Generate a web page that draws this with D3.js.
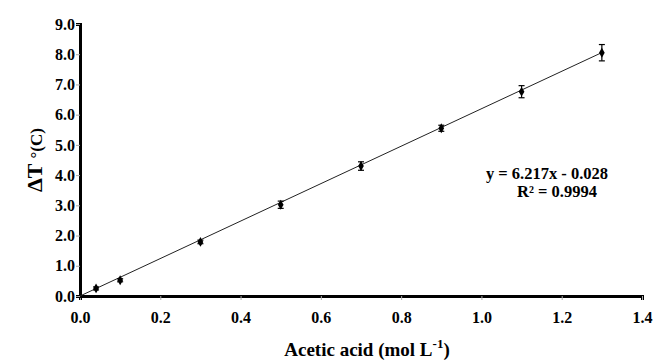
<!DOCTYPE html>
<html>
<head>
<meta charset="utf-8">
<script src="https://cdn.jsdelivr.net/npm/d3@7"></script>
<style>
  body { margin: 0; background: #fff; }
  svg { font-family: "Liberation Serif", "Times New Roman", serif; font-weight: bold; }
</style>
</head>
<body>
<svg id="chart" width="653" height="362"></svg>
<script>
// concentration (mol L-1) and temperature rise with error bars
const acid = [0.04, 0.1, 0.3, 0.5, 0.7, 0.9, 1.1, 1.3]
const deltaT = [0.25, 0.52, 1.79, 3.02, 4.30, 5.55, 6.76, 8.05]
const errT = [0.05, 0.05, 0.06, 0.12, 0.14, 0.10, 0.20, 0.27]
const xTicks = [0, 0.2, 0.4, 0.6, 0.8, 1.0, 1.2, 1.4]
const yTicks = [0, 1, 2, 3, 4, 5, 6, 7, 8, 9]
const slope = 6.217
const intercept = -0.028
const fitText = ["y = 6.217x - 0.028", "R\u00b2 = 0.9994"]

const svg = d3.select("#chart")
const margin = { left: 80, right: 11, top: 24, bottom: 66 }
const width = 653, height = 362

const scaleX = d3.scaleLinear().domain([0, 1.4]).range([margin.left, width - margin.right])
const scaleY = d3.scaleLinear().domain([0, 9]).range([height - margin.bottom, margin.top])

const data = acid.map((x, i) => ({ x: x, y: deltaT[i], e: errT[i] }))

// x axis
const xAxis = svg.append("g")
    .attr("transform", `translate(0,${scaleY(0)})`)
    .call(d3.axisBottom(scaleX).tickValues(xTicks).tickFormat(d3.format(".1f")).tickSize(4).tickPadding(12))
    .attr("font-family", null)
    .attr("font-size", null)
xAxis.select(".domain").attr("stroke-width", 3)
xAxis.selectAll(".tick line").attr("stroke", "#aaa")
xAxis.selectAll("text").attr("font-size", 16).attr("fill", "#000")

// y axis
const yAxis = svg.append("g")
    .attr("transform", `translate(${scaleX(0)},0)`)
    .call(d3.axisLeft(scaleY).tickValues(yTicks).tickFormat(d3.format(".1f")).tickSize(4).tickPadding(1))
    .attr("font-family", null)
    .attr("font-size", null)
yAxis.select(".domain").attr("stroke-width", 3)
yAxis.selectAll(".tick line").attr("stroke", "#aaa")
yAxis.selectAll("text").attr("font-size", 16).attr("fill", "#000")

// trend line
const fit = [0, acid[acid.length - 1]].map(x => ({ x: x, y: Math.max(0, slope * x + intercept) }))
svg.append("path")
    .datum(fit)
    .attr("fill", "none")
    .attr("stroke", "#222")
    .attr("stroke-width", 1)
    .attr("d", d3.line().x(d => scaleX(d.x)).y(d => scaleY(d.y)))

// error bars
const bars = svg.append("g").attr("stroke", "#000").attr("stroke-width", 1.2)
data.forEach(d => {
    const cx = scaleX(d.x)
    bars.append("line").attr("x1", cx).attr("x2", cx).attr("y1", scaleY(d.y - d.e)).attr("y2", scaleY(d.y + d.e))
    bars.append("line").attr("x1", cx - 3).attr("x2", cx + 3).attr("y1", scaleY(d.y - d.e)).attr("y2", scaleY(d.y - d.e))
    bars.append("line").attr("x1", cx - 3).attr("x2", cx + 3).attr("y1", scaleY(d.y + d.e)).attr("y2", scaleY(d.y + d.e))
})

// markers
svg.append("g")
    .selectAll("path")
    .data(data)
    .enter()
    .append("path")
    .attr("transform", d => `translate(${scaleX(d.x)},${scaleY(d.y)})`)
    .attr("d", d3.symbol().type(d3.symbolDiamond).size(28))
    .attr("fill", "#000")

// equation
svg.append("g")
    .selectAll("text")
    .data(fitText)
    .enter()
    .append("text")
    .attr("x", (d, i) => i === 0 ? 547 : 557)
    .attr("y", (d, i) => 179 + i * 18)
    .attr("text-anchor", "middle")
    .attr("font-size", 16.5)
    .text(d => d)

// axis titles
const xt = svg.append("text")
    .attr("x", 367)
    .attr("y", 356)
    .attr("text-anchor", "middle")
    .attr("font-size", 19)
xt.append("tspan").text("Acetic acid (mol L")
xt.append("tspan").attr("dy", -8).attr("font-size", 13).text("-1")
xt.append("tspan").attr("dy", 8).text(")")

const yt = svg.append("text")
    .attr("transform", "translate(42,160) rotate(-90)")
    .attr("text-anchor", "middle")
yt.append("tspan").attr("font-size", 22).text("\u0394T")
yt.append("tspan").attr("font-size", 17).attr("dx", 5).text("\u00b0(C)")
</script>
</body>
</html>
